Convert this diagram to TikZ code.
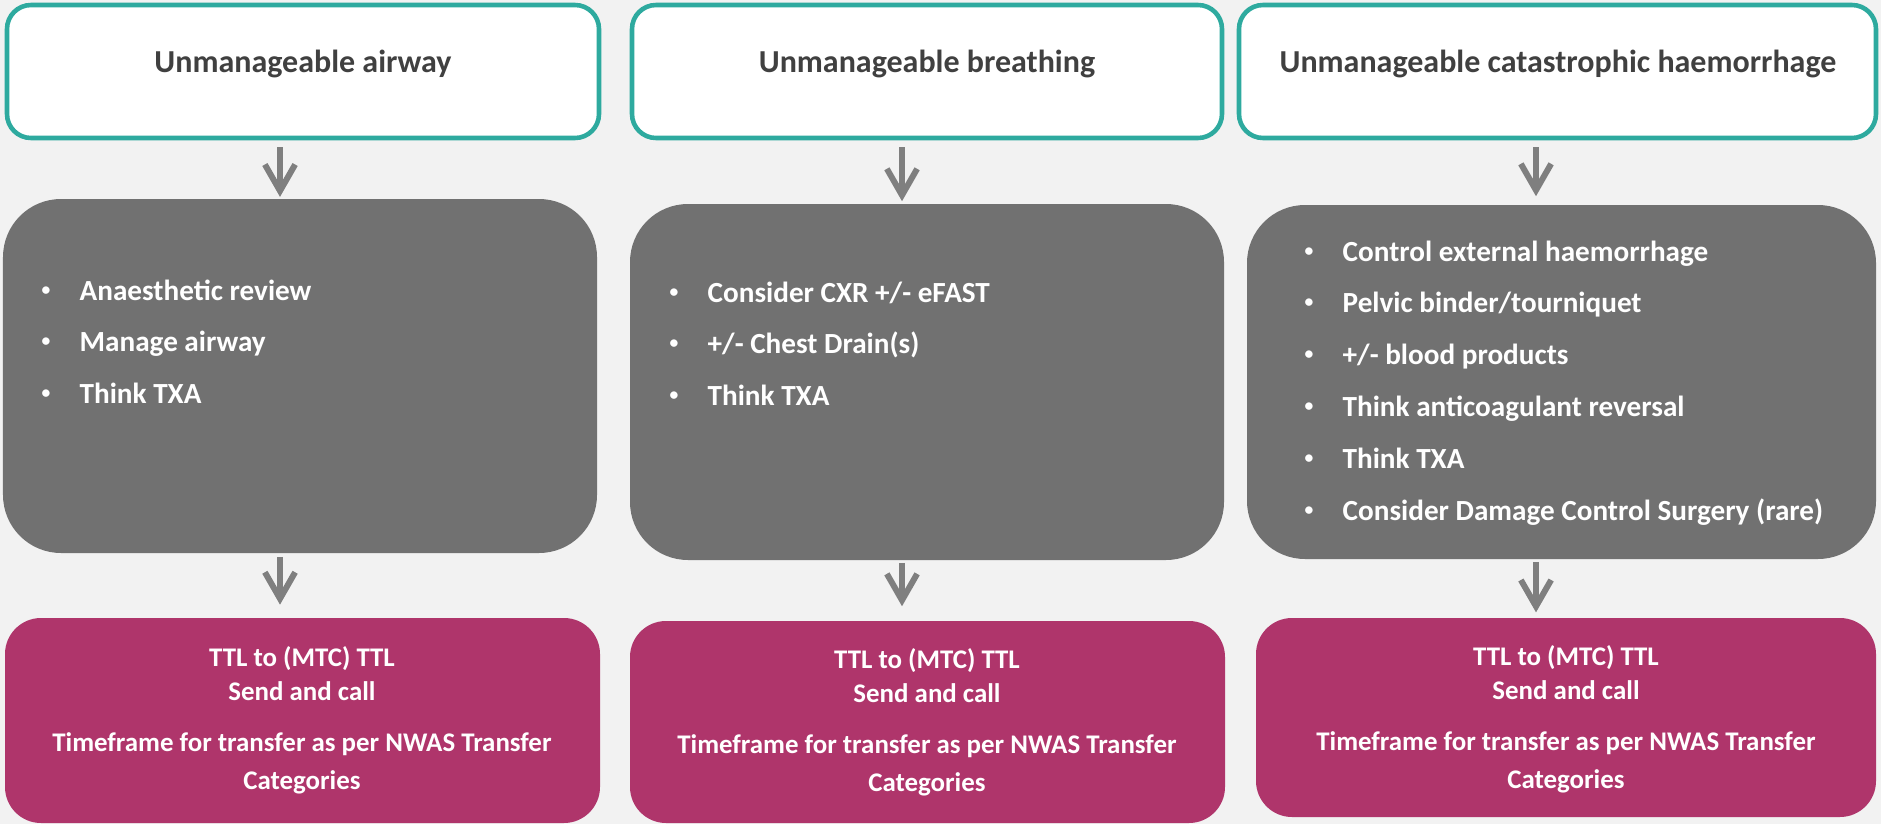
\documentclass[tikz,border=0pt]{standalone}
\usepackage{fontspec}
\setmainfont{Carlito}
\usetikzlibrary{arrows.meta,fit}

\definecolor{pagebg}{HTML}{F2F2F2}
\definecolor{tealline}{HTML}{2EAA9F}
\definecolor{boxgray}{HTML}{717171}
\definecolor{arrowgray}{HTML}{7F7F7F}
\definecolor{berry}{HTML}{AF356B}
\definecolor{titlegray}{HTML}{404040}

% small bullet mark followed by a fixed indent
\newcommand{\bul}{\makebox[10.8pt][l]{\raisebox{1.4pt}{\fontsize{5}{5}\selectfont\textbullet}}}

\tikzset{
  tealbox/.style={draw=tealline, line width=1.3pt, fill=white, rounded corners=0.24cm, inner sep=0pt},
  graybox/.style={fill=boxgray, rounded corners=0.58cm, inner sep=0pt},
  berrybox/.style={fill=berry, rounded corners=0.36cm, inner sep=0pt},
  headtext/.style={anchor=base, inner sep=0pt, text=titlegray, font=\fontsize{9.1}{11}\selectfont\bfseries},
  bullettext/.style={anchor=base west, inner sep=0pt, text=white, font=\bfseries},
  berrytext/.style={anchor=base, inner sep=0pt, text=white, font=\bfseries},
  flow/.style={draw=arrowgray, line width=1.7pt, -{Straight Barb[length=7.5pt,width=8.6pt]}},
}

\begin{document}
\begin{tikzpicture}[x=0.01cm, y=-0.01cm]
  \fill[pagebg] (0,0) rectangle (1881,824);
  \useasboundingbox (0,0) rectangle (1881,824);

  % header boxes
  \node[tealbox, fit={(7,5) (599,138)}] (t1) {};
  \node[tealbox, fit={(632,5) (1222,138)}] (t2) {};
  \node[tealbox, fit={(1239,5) (1876,138)}] (t3) {};
  \node[headtext] (h1) at (303,72) {Unmanageable airway};
  \node[headtext] (h2) at (927,72) {Unmanageable breathing};
  \node[headtext] (h3) at (1558,72) {Unmanageable catastrophic haemorrhage};

  % action boxes
  \node[graybox, fit={(3,199) (597,553)}] (g1) {};
  \node[graybox, fit={(630,204) (1224,560)}] (g2) {};
  \node[graybox, fit={(1247,205) (1876,559)}] (g3) {};

  \node[bullettext] (b1) at (41,300) {\parbox[t]{170pt}{\raggedright\fontsize{8.3}{14.74}\selectfont
    \bul Anaesthetic review\\
    \bul Manage airway\\
    \bul Think TXA}};
  \node[bullettext] (b2) at (669,302) {\parbox[t]{170pt}{\raggedright\fontsize{8.3}{14.74}\selectfont
    \bul Consider CXR +/- eFAST\\
    \bul +/- Chest Drain(s)\\
    \bul Think TXA}};
  \node[bullettext] (b3) at (1304,261) {\parbox[t]{170pt}{\raggedright\fontsize{8.3}{14.74}\selectfont
    \bul Control external haemorrhage\\
    \bul Pelvic binder/tourniquet\\
    \bul +/- blood products\\
    \bul Think anticoagulant reversal\\
    \bul Think TXA\\
    \bul Consider Damage Control Surgery (rare)}};

  % transfer boxes
  \node[berrybox, fit={(5,618) (600,823)}] (m1) {};
  \node[berrybox, fit={(630,621) (1225,823)}] (m2) {};
  \node[berrybox, fit={(1256,618) (1876,817)}] (m3) {};

  \node[berrytext] (p1) at (302,666) {\parbox[t]{170pt}{\centering\fontsize{7.65}{9.67}\selectfont
    TTL to (MTC) TTL\\
    Send and call\\[4.84pt]
    Timeframe for transfer as per NWAS Transfer\\[1.14pt]
    Categories}};
  \node[berrytext] (p2) at (927,668) {\parbox[t]{170pt}{\centering\fontsize{7.65}{9.67}\selectfont
    TTL to (MTC) TTL\\
    Send and call\\[4.84pt]
    Timeframe for transfer as per NWAS Transfer\\[1.14pt]
    Categories}};
  \node[berrytext] (p3) at (1566,665) {\parbox[t]{170pt}{\centering\fontsize{7.65}{9.67}\selectfont
    TTL to (MTC) TTL\\
    Send and call\\[4.84pt]
    Timeframe for transfer as per NWAS Transfer\\[1.14pt]
    Categories}};

  % arrow columns
  \coordinate (x1) at (280,0);
  \coordinate (x2) at (902,0);
  \coordinate (x3) at (1536,0);

  \draw[flow, shorten <=2pt, shorten >=0.4pt] (t1.south -| x1) -- (g1.north -| x1);
  \draw[flow, shorten <=2pt, shorten >=0.6pt] (t2.south -| x2) -- (g2.north -| x2);
  \draw[flow, shorten <=2pt, shorten >=2.3pt] (t3.south -| x3) -- (g3.north -| x3);

  \draw[flow, shorten <=0.9pt, shorten >=3.6pt] (g1.south -| x1) -- (m1.north -| x1);
  \draw[flow, shorten <=0.6pt, shorten >=4pt] (g2.south -| x2) -- (m2.north -| x2);
  \draw[flow, shorten <=0.6pt, shorten >=1.4pt] (g3.south -| x3) -- (m3.north -| x3);
\end{tikzpicture}
\end{document}
